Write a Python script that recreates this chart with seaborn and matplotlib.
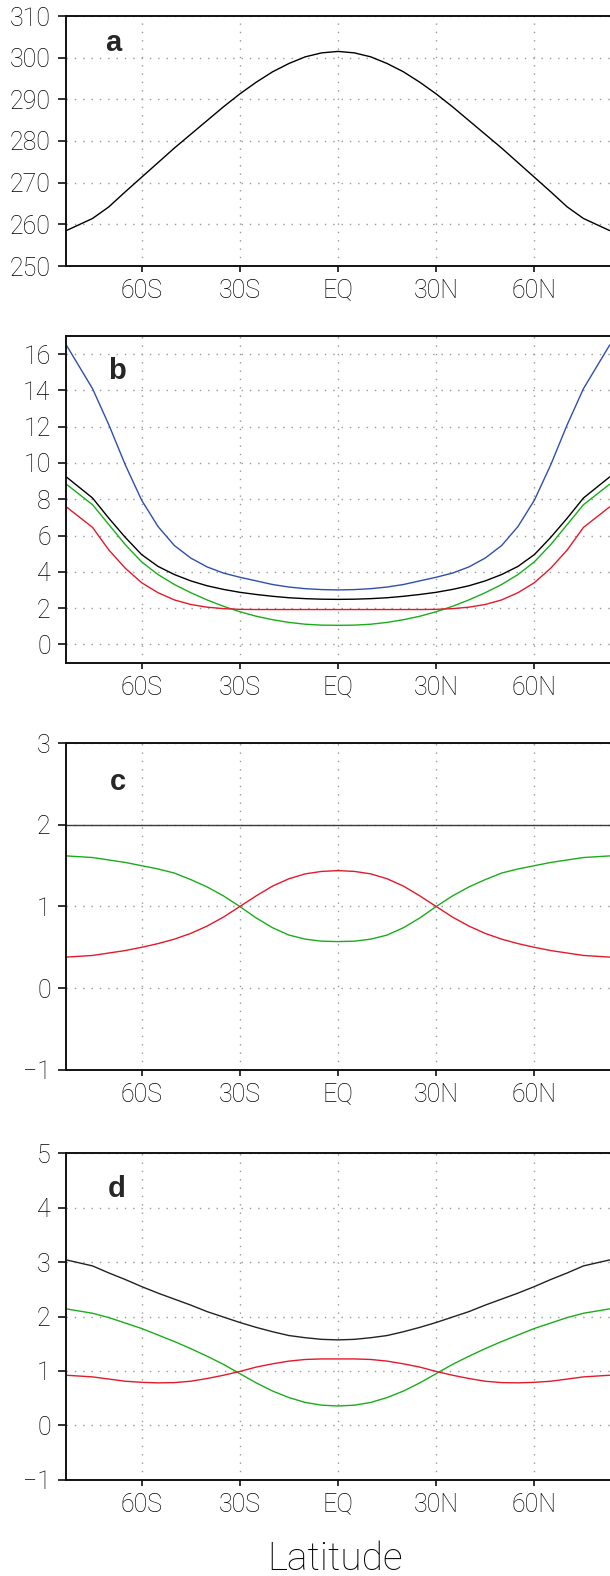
import numpy as np
import pandas as pd
import matplotlib
matplotlib.use("Agg")
import matplotlib.pyplot as plt
import seaborn as sns

# ---------------- data ----------------
lat = [-83, -75, -70, -65, -60, -55, -50, -45, -40, -35, -30, -25, -20, -15, -10, -5, 0,
       5, 10, 15, 20, 25, 30, 35, 40, 45, 50, 55, 60, 65, 70, 75, 83]

xtick_pos = [-60, -30, 0, 30, 60]
xtick_lab = ["60S", "30S", "EQ", "30N", "60N"]

# panel a
temp_a = [258.5, 261.4, 264.2, 267.8, 271.3, 274.8, 278.3, 281.6, 284.9, 288.2, 291.3, 294.1,
          296.6, 298.6, 300.2, 301.15, 301.5,
          301.15, 300.2, 298.6, 296.6, 294.1, 291.3, 288.2, 284.9, 281.6, 278.3, 274.8, 271.3,
          267.8, 264.2, 261.4, 258.5]

# panel b
blue_b = [16.5, 14.1, 12.1, 9.9, 7.95, 6.5, 5.45, 4.76, 4.27, 3.93, 3.7, 3.5, 3.3, 3.16, 3.07, 3.02, 3.0,
          3.02, 3.07, 3.16, 3.3, 3.5, 3.7, 3.93, 4.27, 4.76, 5.45, 6.5, 7.95, 9.9, 12.1, 14.1, 16.5]
black_b = [9.23, 8.07, 6.95, 5.9, 4.95, 4.3, 3.85, 3.5, 3.23, 3.03, 2.87, 2.75, 2.65, 2.57, 2.52, 2.49, 2.48,
           2.49, 2.52, 2.57, 2.65, 2.75, 2.87, 3.03, 3.23, 3.5, 3.85, 4.3, 4.95, 5.9, 6.95, 8.07, 9.23]
green_b = [8.83, 7.7, 6.6, 5.5, 4.55, 3.85, 3.3, 2.85, 2.45, 2.1, 1.8, 1.55, 1.36, 1.21, 1.11, 1.06, 1.05,
           1.06, 1.11, 1.21, 1.36, 1.55, 1.8, 2.1, 2.45, 2.85, 3.3, 3.85, 4.55, 5.5, 6.6, 7.7, 8.83]
red_b = [7.58, 6.45, 5.2, 4.2, 3.4, 2.85, 2.45, 2.2, 2.05, 1.97, 1.93, 1.92, 1.92, 1.92, 1.92, 1.92, 1.92,
         1.92, 1.92, 1.92, 1.92, 1.92, 1.93, 1.97, 2.05, 2.2, 2.45, 2.85, 3.4, 4.2, 5.2, 6.45, 7.58]

# panel c
black_c = [2.0, 2.0, 2.0, 2.0, 2.0, 2.0, 2.0, 2.0, 2.0, 2.0, 2.0, 2.0, 2.0, 2.0, 2.0, 2.0, 2.0,
           2.0, 2.0, 2.0, 2.0, 2.0, 2.0, 2.0, 2.0, 2.0, 2.0, 2.0, 2.0, 2.0, 2.0, 2.0, 2.0]
green_c = [1.62, 1.60, 1.57, 1.54, 1.50, 1.46, 1.41, 1.33, 1.24, 1.13, 1.0, 0.86, 0.74, 0.65, 0.60, 0.575, 0.57,
           0.575, 0.60, 0.65, 0.74, 0.86, 1.0, 1.13, 1.24, 1.33, 1.41, 1.46, 1.50, 1.54, 1.57, 1.60, 1.62]
red_c = [0.38, 0.40, 0.43, 0.46, 0.50, 0.545, 0.60, 0.67, 0.76, 0.87, 1.0, 1.13, 1.25, 1.34, 1.40, 1.43, 1.44,
         1.43, 1.40, 1.34, 1.25, 1.13, 1.0, 0.87, 0.76, 0.67, 0.60, 0.545, 0.50, 0.46, 0.43, 0.40, 0.38]

# panel d
black_d = [3.04, 2.93, 2.80, 2.68, 2.55, 2.43, 2.32, 2.21, 2.09, 1.99, 1.89, 1.80, 1.72, 1.65, 1.61, 1.58, 1.57,
           1.58, 1.61, 1.65, 1.72, 1.80, 1.89, 1.99, 2.09, 2.21, 2.32, 2.43, 2.55, 2.68, 2.80, 2.93, 3.04]
green_d = [2.14, 2.06, 1.98, 1.88, 1.78, 1.66, 1.54, 1.41, 1.27, 1.12, 0.95, 0.78, 0.63, 0.51, 0.42, 0.37, 0.355,
           0.37, 0.42, 0.51, 0.63, 0.78, 0.95, 1.12, 1.27, 1.41, 1.54, 1.66, 1.78, 1.88, 1.98, 2.06, 2.14]
red_d = [0.92, 0.89, 0.85, 0.81, 0.79, 0.78, 0.785, 0.81, 0.86, 0.92, 0.99, 1.07, 1.13, 1.18, 1.21, 1.22, 1.22,
         1.22, 1.21, 1.18, 1.13, 1.07, 0.99, 0.92, 0.86, 0.81, 0.785, 0.78, 0.79, 0.81, 0.85, 0.89, 0.92]

panel_letters = ["a", "b", "c", "d"]
ylims = [(250, 310), (-1, 17), (-1, 3), (-1, 5)]
yticks = [[250, 260, 270, 280, 290, 300, 310],
          [0, 2, 4, 6, 8, 10, 12, 14, 16],
          [-1, 0, 1, 2, 3],
          [-1, 0, 1, 2, 3, 4, 5]]

series = [
    [("T", temp_a, "#000000")],
    [("blue", blue_b, "#2f4fae"), ("black", black_b, "#000000"),
     ("green", green_b, "#1aad1a"), ("red", red_b, "#e31a2a")],
    [("black", black_c, "#3a3a3a"), ("green", green_c, "#1aad1a"), ("red", red_c, "#e31a2a")],
    [("black", black_d, "#222222"), ("green", green_d, "#1aad1a"), ("red", red_d, "#e31a2a")],
]

# ---------------- style ----------------
sns.set_style("white")
plt.rcParams["font.family"] = ["Roboto", "DejaVu Sans"]

W, H = 610, 1576
fig = plt.figure(figsize=(W / 100, H / 100), dpi=100)

boxes = [(16, 266), (336, 662.5), (743.3, 1069.7), (1153.3, 1479.7)]
left_px = 66
letter_pos = [(105, 50.7), (108, 379), (110, 790), (108, 1196.7)]

for i in range(4):
    top, bot = boxes[i]
    ax = fig.add_axes([left_px / W, 1 - bot / H, 1 - left_px / W, (bot - top) / H])
    for name, vals, col in series[i]:
        sns.lineplot(x=lat, y=vals, ax=ax, color=col, linewidth=1.0,
                     estimator=None, sort=False, legend=False)
    ax.set_xlim(-83.1, 83.1)
    ax.set_ylim(*ylims[i])
    ax.set_xticks(xtick_pos)
    ax.set_xticklabels(xtick_lab)
    ax.set_yticks(yticks[i])
    ax.set_yticklabels([("\u2212" + str(-t)) if t < 0 else str(t) for t in yticks[i]])
    ax.grid(True, color="#9a9a9a", linestyle=(0, (1, 5)), linewidth=1.0)
    ax.set_axisbelow(True)
    for s in ["left", "top", "bottom"]:
        ax.spines[s].set_visible(True)
        ax.spines[s].set_color("#111111")
        ax.spines[s].set_linewidth(1.4)
    ax.spines["right"].set_visible(False)
    ax.tick_params(axis="both", which="major", direction="out", width=1.2,
                   color="#111111", labelsize=18, bottom=True, left=True, top=False, right=False)
    ax.tick_params(axis="y", length=5.5, pad=5.5)
    ax.tick_params(axis="x", length=4.5, pad=5)
    for lab in ax.get_xticklabels() + ax.get_yticklabels():
        lab.set_fontweight("light")
        lab.set_color("#000000")
    ax.set_xlabel("")
    ax.set_ylabel("")
    lx, ly = letter_pos[i]
    fig.text(lx / W, 1 - ly / H, panel_letters[i], fontsize=21, fontweight="bold",
             family=["Liberation Sans", "DejaVu Sans"], va="baseline", ha="left")

fig.text(335 / W, 1 - 1570 / H, "Latitude", fontsize=28, fontweight="light",
         ha="center", va="baseline", color="#000000")

fig.savefig("out.png", dpi=100)
